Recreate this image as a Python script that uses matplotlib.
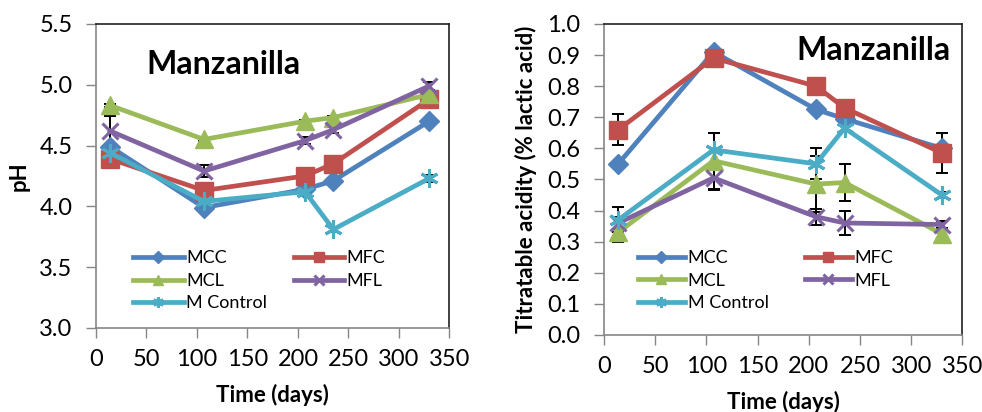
import numpy as np
import matplotlib
matplotlib.use("Agg")
import matplotlib.pyplot as plt

plt.rcParams['font.family'] = ['Lato', 'DejaVu Sans']

# sampling times (days)
days = [14, 107, 207, 235, 330]

series = ["MCC", "MFC", "MCL", "MFL", "M Control"]
colors = ["#4F81BD", "#C0504D", "#9BBB59", "#8064A2", "#4BACC6"]
markers = ["D", "s", "^", "x", (6, 2, 0)]
msizes = [10.5, 13, 13, 12, 13]

# pH
ph = {
    "MCC":       [4.49, 3.99, 4.14, 4.21, 4.70],
    "MFC":       [4.39, 4.13, 4.25, 4.35, 4.88],
    "MCL":       [4.83, 4.55, 4.70, 4.73, 4.92],
    "MFL":       [4.62, 4.29, 4.54, 4.63, 4.99],
    "M Control": [4.44, 4.04, 4.12, 3.81, 4.23],
}
ph_err = {
    "MCC":       [0.01, 0.01, 0.01, 0.01, 0.01],
    "MFC":       [0.01, 0.01, 0.01, 0.01, 0.01],
    "MCL":       [0.01, 0.01, 0.01, 0.01, 0.01],
    "MFL":       [0.12, 0.05, 0.03, 0.03, 0.03],
    "M Control": [0.01, 0.01, 0.01, 0.02, 0.03],
}

# titratable acidity (% lactic acid)
ta = {
    "MCC":       [0.55, 0.91, 0.725, 0.695, 0.60],
    "MFC":       [0.66, 0.89, 0.80, 0.73, 0.585],
    "MCL":       [0.33, 0.56, 0.485, 0.49, 0.325],
    "MFL":       [0.36, 0.505, 0.38, 0.36, 0.355],
    "M Control": [0.37, 0.595, 0.55, 0.665, 0.45],
}
ta_err = {
    "MCC":       [0.01, 0.01, 0.01, 0.01, 0.01],
    "MFC":       [0.05, 0.01, 0.01, 0.01, 0.065],
    "MCL":       [0.03, 0.09, 0.09, 0.06, 0.02],
    "MFL":       [0.02, 0.04, 0.025, 0.04, 0.01],
    "M Control": [0.04, 0.055, 0.05, 0.01, 0.01],
}

fig = plt.figure(figsize=(9.82, 4.12), dpi=100)
ax1 = fig.add_axes([0.0977, 0.204, 0.360, 0.738])
ax2 = fig.add_axes([0.615, 0.187, 0.365, 0.755])


def draw(ax, data, err):
    for name in series:
        ax.errorbar(days, data[name], yerr=err[name], fmt='none',
                    ecolor='black', elinewidth=1.4, capsize=4, capthick=1.4,
                    zorder=2)
    for name, c, m, ms in zip(series, colors, markers, msizes):
        ax.plot(days, data[name], color=c, lw=3.4, marker=m, ms=ms,
                mew=2.2 if m in ("x", (6, 2, 0)) else 1, mec=c, mfc=c,
                label=name, zorder=3)
    ax.set_xlim(0, 350)
    ax.set_xticks(np.arange(0, 351, 50))
    ax.tick_params(direction='out', length=7, width=1, color='#868686',
                   labelsize=17)
    ax.tick_params(axis='y', pad=10)
    ax.tick_params(axis='x', pad=8)
    for s in ax.spines.values():
        s.set_color('#202020')
        s.set_linewidth(1.2)
    ax.spines['left'].set_color('#868686')
    ax.spines['bottom'].set_color('#868686')
    ax.set_xlabel("Time (days)", fontsize=16, fontweight='bold', labelpad=10)
    h, l = ax.get_legend_handles_labels()
    order = [0, 2, 4, 1, 3]
    return [h[i] for i in order], [l[i] for i in order]


h, l = draw(ax1, ph, ph_err)
ax1.set_ylim(3.0, 5.5)
ax1.set_yticks(np.arange(3.0, 5.51, 0.5))
ax1.yaxis.set_major_formatter(matplotlib.ticker.FormatStrFormatter('%.1f'))
ax1.set_ylabel("pH", fontsize=16, fontweight='bold', labelpad=7)
ax1.text(0.144, 0.865, "Manzanilla", transform=ax1.transAxes, fontsize=23,
         fontweight='bold', ha='left', va='center')
ax1.legend(h, l, ncol=2, frameon=False, loc='upper left',
           bbox_to_anchor=(0.105, 0.255), fontsize=13, handlelength=2.8,
           handletextpad=0.15, columnspacing=1.45, labelspacing=0.36,
           markerscale=0.6, borderaxespad=0, borderpad=0)

h, l = draw(ax2, ta, ta_err)
ax2.set_ylim(0.0, 1.0)
ax2.set_yticks(np.arange(0.0, 1.01, 0.1))
ax2.yaxis.set_major_formatter(matplotlib.ticker.FormatStrFormatter('%.1f'))
ax2.set_ylabel("Titratable acidity (% lactic acid)", fontsize=16,
               fontweight='bold', labelpad=7)
ax2.text(0.967, 0.916, "Manzanilla", transform=ax2.transAxes, fontsize=23,
         fontweight='bold', ha='right', va='center')
ax2.legend(h, l, ncol=2, frameon=False, loc='upper left',
           bbox_to_anchor=(0.095, 0.273), fontsize=13, handlelength=2.6,
           handletextpad=0.15, columnspacing=2.0, labelspacing=0.36,
           markerscale=0.6, borderaxespad=0, borderpad=0)

fig.savefig("out.png", dpi=100)
